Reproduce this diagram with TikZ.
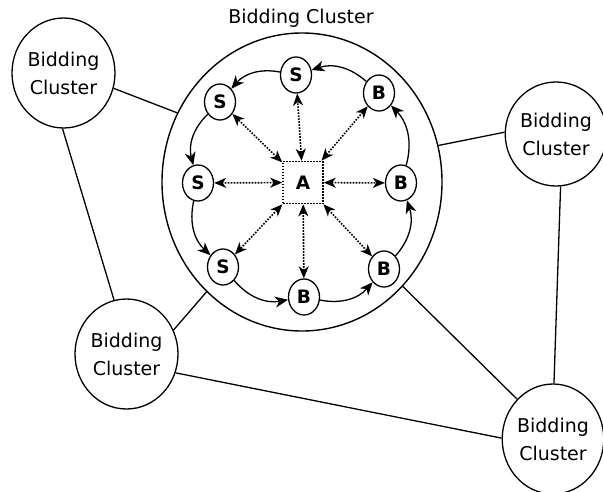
\documentclass[tikz,border=0pt]{standalone}
\usepackage{fontspec}
\setmainfont{DejaVu Sans}
\usetikzlibrary{shapes.geometric,arrows.meta}
\begin{document}
\begin{tikzpicture}[x=1pt,y=-1pt,
  cluster/.style={ellipse,draw,line width=1.3pt,inner sep=0pt,align=center,font=\fontsize{19}{28}\selectfont},
  agent/.style={ellipse,draw,line width=1.3pt,inner sep=0pt,minimum width=31pt,minimum height=36pt,font=\fontsize{18.5}{20}\selectfont\bfseries},
  flow/.style={line width=1.3pt,-{Stealth[length=13pt,width=11pt,inset=4pt]}},
  dots/.style={line width=1.6pt,dash pattern=on 1.6pt off 1.4pt},
  link/.style={dots,{Stealth[length=12pt,width=10pt,inset=3.5pt]}-{Stealth[length=12pt,width=10pt,inset=3.5pt]}},
  conn/.style={line width=1.3pt}]
\useasboundingbox (0,0) rectangle (603,491);
\node[ellipse,draw,line width=1.4pt,minimum width=280pt,minimum height=298pt] (big) at (302,182) {};
\node[font=\fontsize{19}{22}\selectfont] (title) at (301,18) {Bidding Cluster};
\node[cluster,minimum width=103pt,minimum height=110pt] (tl) at (63.5,73) {Bidding\\Cluster};
\node[cluster,minimum width=96pt,minimum height=104pt] (r) at (556,134) {Bidding\\Cluster};
\node[cluster,minimum width=103pt,minimum height=110pt] (bl) at (126.5,354) {Bidding\\Cluster};
\node[cluster,minimum width=100pt,minimum height=110pt] (br) at (553,439) {Bidding\\Cluster};
\draw[conn] (tl.-17.3) -- (big.151.5);
\draw[conn] (tl.-91.6) -- (bl.103.8);
\draw[conn] (bl.27.8) -- (big.229.4);
\draw[conn] (bl.-21.2) -- (br.179);
\draw[conn] (big.-46.7) -- (br.132);
\draw[conn] (big.15.8) -- (r.178.8);
\draw[conn] (r.-85.6) -- (br.89);
\node[agent] (s1) at (296,75) {S};
\node[agent] (s2) at (220,102) {S};
\node[agent] (s3) at (198,183) {S};
\node[agent] (s4) at (223,267) {S};
\node[agent] (b1) at (304,297) {B};
\node[agent] (b2) at (384,269) {B};
\node[agent] (b3) at (401,183) {B};
\node[agent] (b4) at (379,93) {B};
\node[draw,dots,minimum width=40pt,minimum height=42pt,inner sep=0pt,font=\fontsize{18.5}{20}\selectfont\bfseries] (a) at (303,182.5) {A};
\draw[flow] (b4) to[bend right=30] (s1);
\draw[flow] (s1) to[bend right=30] (s2);
\draw[flow] (s2) to[bend right=30] (s3);
\draw[flow] (s3) to[bend right=30] (s4);
\draw[flow] (s4) to[bend right=30] (b1);
\draw[flow] (b1) to[bend right=30] (b2);
\draw[flow] (b2) to[bend right=30] (b3);
\draw[flow] (b3) to[bend right=30] (b4);
\foreach \n in {s1,s2,s3,s4,b1,b2,b3,b4} \draw[link] (a) -- (\n);
\end{tikzpicture}
\end{document}
